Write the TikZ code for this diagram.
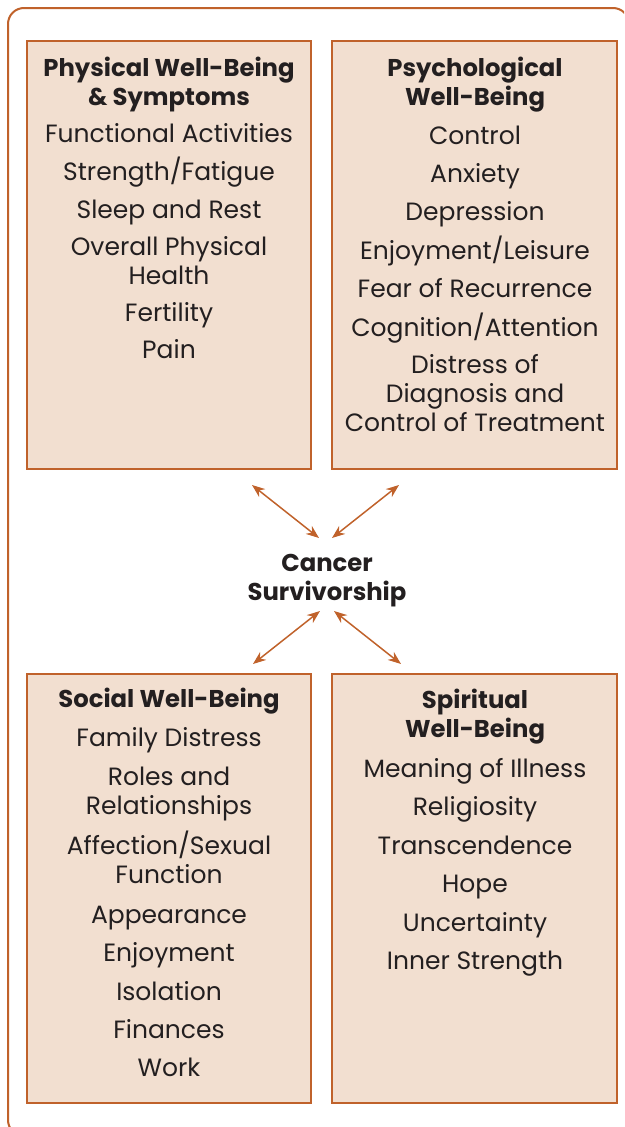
\documentclass[tikz,border=0pt]{standalone}
\usepackage{fontspec}
\setmainfont{Poppins}
\usetikzlibrary{arrows.meta}
\definecolor{frame}{HTML}{C0622B}
\definecolor{boxfill}{HTML}{F2DFD0}
\definecolor{ink}{HTML}{231F20}
\tikzset{
  catbox/.style={draw=frame,fill=boxfill,line width=1.6pt},
  ttl/.style={font=\fontsize{24.3}{29}\selectfont\bfseries,text=ink,anchor=base,inner sep=0},
  itm/.style={font=\fontsize{25}{29}\selectfont,text=ink,anchor=base,inner sep=0},
  link/.style={draw=frame,line width=1.5pt,{Stealth[length=13pt,width=10pt]}-{Stealth[length=13pt,width=10pt]}}
}
\begin{document}
\begin{tikzpicture}[x=1pt,y=-1pt]
\useasboundingbox (0,0) rectangle (624,1127);
\clip (0,0) rectangle (624,1127);
\draw[frame,line width=2pt,rounded corners=16] (8,1136) -- (8,8) -- (629,8) -- (629,1136) -- cycle;
\draw[catbox] (27,41) rectangle (311,469);
\draw[catbox] (332,41) rectangle (617,469);
\draw[catbox] (27,674) rectangle (311,1103);
\draw[catbox] (332,674) rectangle (617,1103);
% box 1
\node[ttl] (t1a) at (169,76) {Physical Well-Being};
\node[ttl] (t1b) at (169,105) {\& Symptoms};
\node[itm] (a1) at (169,142) {Functional Activities};
\node[itm] (a2) at (169,180) {Strength/Fatigue};
\node[itm] (a3) at (169,218) {Sleep and Rest};
\node[itm] (a4a) at (169,255) {Overall Physical};
\node[itm] (a4b) at (169,284) {Health};
\node[itm] (a5) at (169,321) {Fertility};
\node[itm] (a6) at (169,358) {Pain};
% box 2
\node[ttl] (t2a) at (475,76) {Psychological};
\node[ttl] (t2b) at (475,105) {Well-Being};
\node[itm] (b1) at (475,144) {Control};
\node[itm] (b2) at (475,182) {Anxiety};
\node[itm] (b3) at (475,220) {Depression};
\node[itm] (b4) at (475,259) {Enjoyment/Leisure};
\node[itm] (b5) at (475,297) {Fear of Recurrence};
\node[itm] (b6) at (475,336) {Cognition/Attention};
\node[itm] (b7a) at (475,373) {Distress of};
\node[itm] (b7b) at (475,402) {Diagnosis and};
\node[itm] (b7c) at (475,431) {Control of Treatment};
% center
\node[ttl] (csa) at (327,571) {Cancer};
\node[ttl] (csb) at (327,600) {Survivorship};
% box 3
\node[ttl] (t3) at (169,707) {Social Well-Being};
\node[itm] (c1) at (169,746) {Family Distress};
\node[itm] (c2a) at (169,785) {Roles and};
\node[itm] (c2b) at (169,814) {Relationships};
\node[itm] (c3a) at (169,854) {Affection/Sexual};
\node[itm] (c3b) at (169,883) {Function};
\node[itm] (c4) at (169,923) {Appearance};
\node[itm] (c5) at (169,961) {Enjoyment};
\node[itm] (c6) at (169,1000) {Isolation};
\node[itm] (c7) at (169,1038) {Finances};
\node[itm] (c8) at (169,1076) {Work};
% box 4
\node[ttl] (t4a) at (475,708) {Spiritual};
\node[ttl] (t4b) at (475,737) {Well-Being};
\node[itm] (d1) at (475,777) {Meaning of Illness};
\node[itm] (d2) at (475,815) {Religiosity};
\node[itm] (d3) at (475,854) {Transcendence};
\node[itm] (d4) at (475,892) {Hope};
\node[itm] (d5) at (475,931) {Uncertainty};
\node[itm] (d6) at (475,969) {Inner Strength};
% arrows
\coordinate (p1) at (252,485);
\coordinate (q1) at (319,538);
\coordinate (p2) at (399,485);
\coordinate (q2) at (332,538);
\coordinate (p3) at (253,664);
\coordinate (q3) at (320,611);
\coordinate (p4) at (401,664);
\coordinate (q4) at (334,611);
\draw[link] (p1) -- (q1);
\draw[link] (p2) -- (q2);
\draw[link] (p3) -- (q3);
\draw[link] (p4) -- (q4);
\end{tikzpicture}
\end{document}
